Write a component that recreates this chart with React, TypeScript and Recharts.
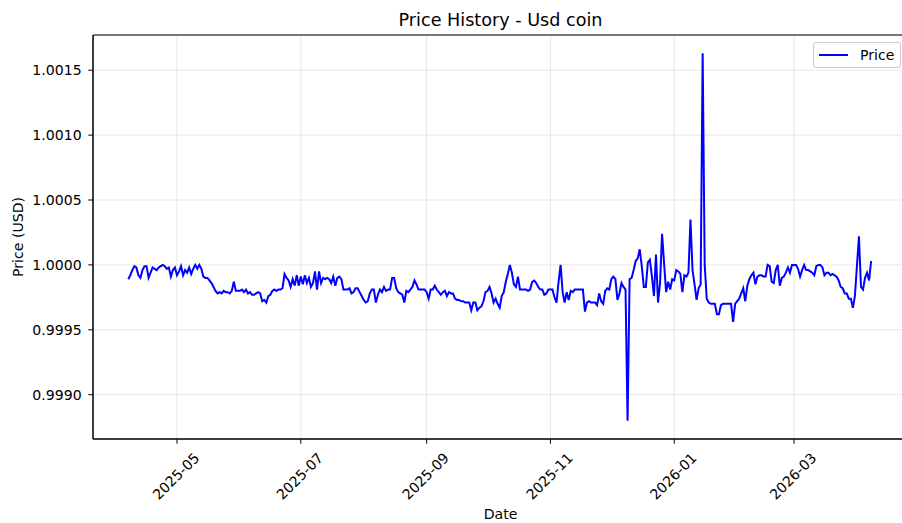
import React from 'react';
import {
  LineChart,
  Line,
  XAxis,
  YAxis,
  CartesianGrid,
  Legend,
  ReferenceArea,
} from 'recharts';

const START_DATE = '2025-04-07';
const DAY_MS = 86400000;

const prices: number[] = [
  0.99989, 0.99992, 0.99996, 0.99999, 0.99998, 0.99992, 0.9999, 0.99996, 0.99999, 0.99999,
  0.9999, 0.99994, 0.99998, 0.99997, 0.99996, 0.99998, 0.99999, 1.0, 0.99999, 0.99997,
  0.99998, 0.99991, 0.99996, 0.99998, 0.99992, 0.99995, 0.99999, 0.99992, 0.99996, 0.99994,
  0.99998, 0.99993, 0.99997, 1.0, 0.99997, 1.0, 0.99997, 0.99991, 0.9999, 0.9999,
  0.99988, 0.99986, 0.99983, 0.9998, 0.99978,
  0.99979, 0.99978, 0.9998, 0.99979, 0.99979, 0.99978, 0.9998, 0.99987, 0.9998, 0.9998,
  0.9998, 0.99981, 0.99979, 0.99981, 0.99978, 0.99979, 0.99977, 0.99977, 0.99978, 0.99979,
  0.99978, 0.99972, 0.99973, 0.99971, 0.99976, 0.99977, 0.9998, 0.99981, 0.9998, 0.99981,
  0.99981, 0.99982, 0.99993, 0.9999, 0.99988, 0.99983, 0.99989, 0.99984, 0.99992, 0.99984,
  0.99991, 0.99985, 0.99992, 0.99986, 0.9999, 0.99983,
  0.99986, 0.99995, 0.99981, 0.99995, 0.99986, 0.9999, 0.99989, 0.9999, 0.99989,
  0.99986, 0.99991, 0.99984, 0.9999, 0.99991, 0.99989, 0.99981, 0.99981, 0.99981, 0.99982,
  0.99978, 0.99979, 0.99982, 0.99982, 0.99979, 0.99976, 0.99973, 0.99971, 0.99972, 0.99978,
  0.99981, 0.99981, 0.99971, 0.99977, 0.99981, 0.99979, 0.99983, 0.9998, 0.99981, 0.99981,
  0.9999, 0.9999, 0.99982, 0.99979, 0.99978, 0.99977, 0.99971,
  0.9998, 0.99979, 0.99981,
  0.99983, 0.99988, 0.99985, 0.99981, 0.99981, 0.99981, 0.99981, 0.99979, 0.99974, 0.99981,
  0.99981, 0.99984, 0.99981, 0.99979, 0.99977, 0.99979, 0.9998, 0.99976, 0.99979, 0.99978,
  0.99978, 0.99974, 0.99973, 0.99973, 0.99972, 0.99972, 0.99971, 0.99971, 0.99971, 0.99965,
  0.99971, 0.99971, 0.99965, 0.99967, 0.99968, 0.99972, 0.99979, 0.9998, 0.99983, 0.99978,
  0.99971, 0.99974, 0.9997, 0.99967, 0.99976,
  0.99979, 0.99987, 0.99993, 1.0, 0.99994,
  0.99985, 0.99983, 0.99991, 0.99981, 0.99981, 0.99981, 0.99981, 0.9998, 0.99981, 0.99987,
  0.99988, 0.99986, 0.99983, 0.99981, 0.99981, 0.99977, 0.99978, 0.99981, 0.99981, 0.99981,
  0.99975, 0.99971, 0.99987, 1.0, 0.99979, 0.99971, 0.99979, 0.99973, 0.9998, 0.99979,
  0.99981, 0.99981, 0.99981, 0.99981, 0.99981, 0.99964, 0.99971, 0.99972, 0.99971, 0.99971,
  0.99971,
  0.99969, 0.99978, 0.99972, 0.9997, 0.9998, 0.99982, 0.99981, 0.99989, 0.99991,
  0.99989, 0.99973, 0.99978, 0.99986, 0.99983, 0.99981, 0.9988, 0.99989, 0.9999, 0.99996,
  1.00003, 1.00005, 1.00012, 0.99999, 0.99983, 0.99983, 1.00002, 1.00004, 0.99991, 0.99976,
  1.00008, 0.99971, 0.99986, 1.00024, 1.00001, 0.99979, 0.99987, 0.99981, 0.99989,
  0.99988,
  0.99996, 0.99995, 0.99993, 0.99979, 0.99992, 0.99991, 0.99994, 1.00035, 0.99996, 0.99985,
  0.99973, 0.99982, 0.99985, 1.00163, 1.0, 0.99974, 0.99971, 0.9997, 0.9997, 0.9997,
  0.99962, 0.99962, 0.99969, 0.9997, 0.9997, 0.9997, 0.9997, 0.9997, 0.99956, 0.9997,
  0.99972, 0.99974, 0.99978, 0.99982, 0.99972, 0.99984,
  0.99989, 0.99992, 0.99994, 0.99985,
  0.99991, 0.99992, 0.99992, 0.99991, 0.99991, 1.0, 0.99999, 0.99987, 0.99986, 0.99996,
  1.0, 0.99984, 0.9999, 0.99991, 0.99994, 0.99998, 0.99994, 1.0, 1.0, 1.0,
  0.99997, 0.99991, 0.99996, 1.0, 0.99996, 0.99996, 0.99995, 0.99994, 0.99992, 0.99999,
  1.0, 1.0, 0.99998, 0.99992, 0.99994, 0.99994, 0.99992, 0.99993, 0.99992, 0.99991,
  0.99988, 0.99983, 0.99982, 0.99978, 0.99978, 0.99974, 0.99974, 0.99967, 0.99976, 0.99999,
  1.00022, 0.99983, 0.99981, 0.9999, 0.99994, 0.99988, 1.00003,
];

const xTickDates = ['2025-05-01', '2025-07-01', '2025-09-01', '2025-11-01', '2026-01-01', '2026-03-01'];
const yTicks = [0.999, 0.9995, 1.0, 1.0005, 1.001, 1.0015];
const xDomainDates = ['2025-03-20T15:00:00Z', '2026-04-26T04:00:00Z'];

const t0 = Date.parse(START_DATE + 'T00:00:00Z');
const data = prices.map((p, i) => ({ t: t0 + i * DAY_MS, price: p }));

const xDomain: [number, number] = [Date.parse(xDomainDates[0]), Date.parse(xDomainDates[1])];

const pMin = Math.min(...prices);
const pMax = Math.max(...prices);
const yPad = (pMax - pMin) * 0.05;
const yDomain: [number, number] = [pMin - yPad, pMax + yPad];

const xTicks = xTickDates.map((d) => Date.parse(d + 'T00:00:00Z'));

const FONT = '"DejaVu Sans", sans-serif';
const FS = 14.1;

const fmtMonth = (v: number) => {
  const d = new Date(v);
  const m = d.getUTCMonth() + 1;
  return `${d.getUTCFullYear()}-${m < 10 ? '0' + m : m}`;
};

const XTick = (props: any) => {
  const { x, y, payload } = props;
  const cx = x - 1;
  const cy = y + 29.5;
  return (
    <text
      x={cx}
      y={cy}
      transform={`rotate(-45, ${cx}, ${cy})`}
      textAnchor="middle"
      dominantBaseline="central"
      fill="#000"
      fontSize={FS}
      fontFamily={FONT}
    >
      {fmtMonth(payload.value)}
    </text>
  );
};

const LegendBox = () => (
  <div
    style={{
      width: 88,
      height: 26,
      boxSizing: 'border-box',
      border: '1px solid #cccccc',
      borderRadius: 3,
      background: 'rgba(255,255,255,0.8)',
      display: 'flex',
      alignItems: 'center',
      fontFamily: FONT,
      fontSize: FS,
      color: '#000',
    }}
  >
    <svg width={46} height={20} style={{ display: 'block' }}>
      <line x1={5} y1={10} x2={34} y2={10} stroke="#0000ff" strokeWidth={2} />
    </svg>
    <span>Price</span>
  </div>
);

export default function App() {
  return (
    <div
      style={{
        position: 'absolute',
        left: 0,
        top: 0,
        width: 902,
        height: 523,
        overflow: 'hidden',
        background: '#fff',
      }}
    >
      <div
        style={{
          position: 'absolute',
          left: 0,
          top: 10,
          width: 1001,
          textAlign: 'center',
          fontFamily: FONT,
          fontSize: 17.6,
          color: '#000',
          whiteSpace: 'nowrap',
        }}
      >
        Price History - Usd coin
      </div>
      <LineChart
        width={909}
        height={523}
        data={data}
        margin={{ top: 35, right: 1, bottom: 0, left: 0 }}
        style={{ position: 'absolute', left: 0, top: 0 }}
      >
        <CartesianGrid stroke="#b0b0b0" strokeOpacity={0.3} strokeWidth={1} />
        <XAxis
          dataKey="t"
          type="number"
          domain={xDomain}
          allowDataOverflow
          ticks={xTicks}
          tickFormatter={fmtMonth}
          tick={<XTick />}
          tickSize={4.7}
          tickMargin={3}
          height={84}
          stroke="#000"
          axisLine={{ stroke: '#000', strokeWidth: 1 }}
          tickLine={{ stroke: '#000' }}
          interval={0}
          label={{
            value: 'Date',
            position: 'insideBottom',
            offset: 4,
            fill: '#000',
            fontSize: FS,
            fontFamily: FONT,
          }}
        />
        <YAxis
          type="number"
          domain={yDomain}
          allowDataOverflow
          ticks={yTicks}
          tickFormatter={(v: number) => v.toFixed(4)}
          width={93}
          tickSize={4.7}
          tickMargin={6.6}
          interval={0}
          axisLine={{ stroke: '#000', strokeWidth: 1 }}
          tickLine={{ stroke: '#000' }}
          tick={{ fill: '#000', fontSize: FS, fontFamily: FONT }}
          label={{
            content: (p: any) => {
              const vb = p.viewBox || {};
              const cy = (vb.y ?? 35) + (vb.height ?? 404) / 2;
              return (
                <text
                  x={18}
                  y={cy}
                  transform={`rotate(-90, 18, ${cy})`}
                  textAnchor="middle"
                  dominantBaseline="central"
                  fill="#000"
                  fontSize={FS}
                  fontFamily={FONT}
                >
                  Price (USD)
                </text>
              );
            },
          }}
        />
        <ReferenceArea
          x1={xDomain[0]}
          x2={xDomain[1]}
          y1={yDomain[0]}
          y2={yDomain[1]}
          fill="none"
          fillOpacity={0}
          stroke="#000"
          strokeWidth={1}
        />
        <Legend
          layout="vertical"
          align="center"
          verticalAlign="middle"
          content={<LegendBox />}
          wrapperStyle={{ position: 'absolute', top: 42, left: 813, width: 88, height: 26 }}
        />
        <Line
          type="linear"
          dataKey="price"
          name="Price"
          stroke="#0000ff"
          strokeWidth={2}
          dot={false}
          activeDot={false}
          isAnimationActive={false}
        />
      </LineChart>
    </div>
  );
}
